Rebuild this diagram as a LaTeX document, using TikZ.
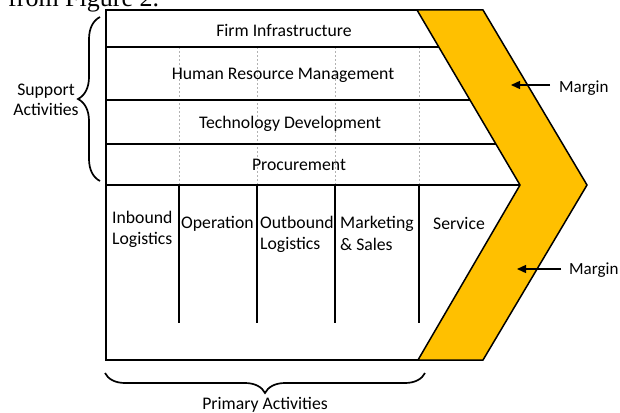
\documentclass[tikz,border=0pt]{standalone}
\usepackage{fontspec}
\setmainfont{Carlito}
\newfontfamily\capfont{Liberation Serif}
\usetikzlibrary{decorations.pathreplacing,arrows.meta}
\definecolor{gold}{HTML}{FFC000}
\begin{document}
\begin{tikzpicture}[x=1pt,y=-1pt,
  lbl/.style={font=\fontsize{17.7}{21}\selectfont, inner sep=0pt},
  mlbl/.style={font=\fontsize{17}{21}\selectfont, inner sep=0pt},
  frame/.style={line width=1.8pt, black},
  sep/.style={line width=1.5pt, black},
  guide/.style={line width=0.6pt, gray!60, dashed, dash pattern=on 2pt off 2pt},
  bracestyle/.style={line width=1.7pt, decorate},
  arr/.style={line width=1.4pt, -{Triangle[length=9pt,width=8pt]}}]
\useasboundingbox (0,0) rectangle (620,412);
% clipped caption fragment
\node[font=\capfont\fontsize{26}{28}\selectfont, inner sep=0pt, anchor=base west] (cap) at (8,7) {from Figure 2.};
% guides in support area
\foreach \gx/\gn in {179/g1,257/g2,335/g3,419/g4}{
  \coordinate (\gn t) at (\gx,47);
  \coordinate (\gn b) at (\gx,185);
  \draw[guide] (\gn t) -- (\gn b);
}
% primary separators
\foreach \px/\pn in {179/p1,257/p2,335/p3,419/p4}{
  \coordinate (\pn t) at (\px,185);
  \coordinate (\pn b) at (\px,323);
  \draw[sep] (\pn t) -- (\pn b);
}
% horizontal separators
\coordinate (h1l) at (106,47);  \coordinate (h1r) at (438.8,47);
\coordinate (h2l) at (106,100); \coordinate (h2r) at (470,100);
\coordinate (h3l) at (106,144); \coordinate (h3r) at (495.9,144);
\coordinate (h4l) at (106,185); \coordinate (h4r) at (520,185);
\draw[sep] (h1l) -- (h1r);
\draw[sep] (h2l) -- (h2r);
\draw[sep] (h3l) -- (h3r);
\draw[sep] (h4l) -- (h4r);
% outer frame
\coordinate (tl) at (106,10);
\coordinate (tr) at (417,10);
\coordinate (bl) at (106,360);
\coordinate (br) at (418,360);
\draw[frame] (tr) -- (tl) -- (bl) -- (br);
% margin chevron
\coordinate (c1) at (417,10);
\coordinate (c2) at (483,10);
\coordinate (c3) at (587,185);
\coordinate (c4) at (483,360);
\coordinate (c5) at (418,360);
\coordinate (c6) at (520,185);
\draw[frame, line width=1.5pt, fill=gold, line join=miter] (c1) -- (c2) -- (c3) -- (c4) -- (c5) -- (c6) -- cycle;
% support labels
\node[lbl, anchor=base] (fi) at (284,37) {Firm Infrastructure};
\node[lbl, anchor=base] (hr) at (283,79) {Human Resource Management};
\node[lbl, anchor=base] (td) at (290,128) {Technology Development};
\node[lbl, anchor=base] (pr) at (299,170) {Procurement};
% primary labels
\node[lbl, anchor=base west] (il1) at (112,223) {Inbound};
\node[lbl, anchor=base west] (il2) at (112,244) {Logistics};
\node[lbl, anchor=base west] (op) at (181,228) {Operation};
\node[lbl, anchor=base west] (ol1) at (260,228) {Outbound};
\node[lbl, anchor=base west] (ol2) at (260,249) {Logistics};
\node[lbl, anchor=base west] (ms1) at (340,228) {Marketing};
\node[lbl, anchor=base west] (ms2) at (340,250) {\& Sales};
\node[lbl, anchor=base west] (sv) at (433,229) {Service};
% margin labels
\node[mlbl, anchor=base west] (m1) at (559,92) {Margin};
\coordinate (a1s) at (550,85); \coordinate (a1e) at (511,85);
\draw[arr] (a1s) -- (a1e);
\node[mlbl, anchor=base west] (m2) at (569,274) {Margin};
\coordinate (a2s) at (561,269); \coordinate (a2e) at (517,269);
\draw[arr] (a2s) -- (a2e);
% support brace
\coordinate (sb1) at (100,181); \coordinate (sb2) at (100,17);
\draw[bracestyle, decoration={brace, amplitude=22pt}] (sb1) -- (sb2);
\node[lbl, anchor=base] (sa1) at (46,95) {Support};
\node[lbl, anchor=base] (sa2) at (46,115) {Activities};
% primary brace
\coordinate (pb1) at (425,373); \coordinate (pb2) at (105,373);
\draw[bracestyle, decoration={brace, amplitude=20pt}] (pb1) -- (pb2);
\node[lbl, anchor=base] (pa) at (265,409) {Primary Activities};
\end{tikzpicture}
\end{document}
